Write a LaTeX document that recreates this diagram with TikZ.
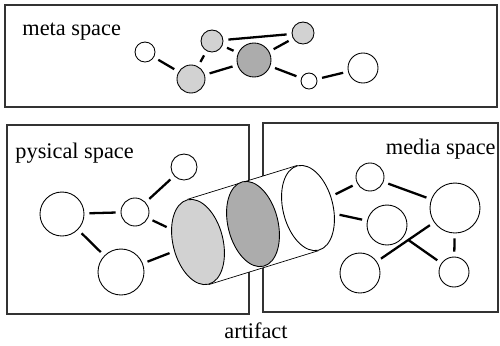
\documentclass[tikz,border=0pt]{standalone}
\usepackage{fontspec}
\setmainfont{Liberation Serif}
\usetikzlibrary{%
  shapes.geometric,% wg. ellipse
  backgrounds%
}

\begin{document}
\begin{tikzpicture}
[x=0.02cm, y=-0.02cm, line width=0.5pt,
node0/.style={circle, draw, fill=white, inner sep=0pt},
node1/.style={circle, draw, fill=gray!35, inner sep=0pt},
node2/.style={circle, draw, fill=gray!65, inner sep=0pt},
disc/.style={ellipse, draw, inner sep=0pt, minimum width=1cm, minimum height=1.74cm, rotate=14},
link/.style={line width=1.3pt, shorten >=0.1cm, shorten <=0.1cm},
space/.style={draw=black!80, line width=0.6pt},
title/.style={anchor=base west, inner sep=0pt, font=\fontsize{12.7}{15}\selectfont}]

\useasboundingbox (0,0) rectangle (500,345);

\begin{scope}[on background layer]
\draw[space] (5,5) rectangle (497,107);
\draw[space] (7,125) rectangle (249,314);
\draw[space] (263,123) rectangle (498,312);
\end{scope}

\node[title] (tmeta) at (22,35) {meta space};
\node[title] (tphys) at (15,158) {pysical space};
\node[title,anchor=base east] (tmedia) at (496,154) {media space};
\node[title,anchor=base] (tart) at (256,338) {artifact};

% meta space
\node[node0,minimum size=0.4cm] (a1) at (145,52) {};
\node[node1,minimum size=0.56cm] (a2) at (191,79) {};
\node[node1,minimum size=0.44cm] (a3) at (212,41) {};
\node[node2,minimum size=0.68cm] (a4) at (254,60) {};
\node[node1,minimum size=0.44cm] (a5) at (303,33) {};
\node[node0,minimum size=0.32cm] (a6) at (309,81) {};
\node[node0,minimum size=0.6cm] (a7) at (363,68) {};

\draw[link] (a1) -- (a2);
\draw[link] (a2) -- (a3);
\draw[link] (a3) -- (a5);
\draw[link] (a3) -- (a4);
\draw[link] (a4) -- (a5);
\draw[link] (a2) -- (a4);
\draw[link] (a4) -- (a6);
\draw[link] (a6) -- (a7);

% artifact
\node[disc,fill=white] (e3) at (308,208) {};
\node[disc,fill=gray!35] (e1) at (198,242) {};
\node[disc,fill=gray!65] (e2) at (253,224) {};

\begin{scope}[on background layer]
\fill[white] (e1.north) -- (e3.north) -- (e3.south) -- (e1.south) -- cycle;
\draw (e1.north) -- (e3.north);
\draw (e1.south) -- (e3.south);
\end{scope}

% pysical space
\node[node0,minimum size=0.88cm] (p1) at (62,214) {};
\node[node0,minimum size=0.56cm] (p2) at (135,212) {};
\node[node0,minimum size=0.52cm] (p3) at (184,167) {};
\node[node0,minimum size=0.92cm] (p4) at (121,272) {};

\draw[link] (p1) -- (p2);
\draw[link] (p1) -- (p4);
\draw[link] (p2) -- (p3);
\draw[link] (p2) -- (e1);
\draw[link] (p4) -- (e1);

% media space
\node[node0,minimum size=0.56cm] (q1) at (370,177) {};
\node[node0,minimum size=0.8cm] (q2) at (387,225) {};
\node[node0,minimum size=1cm] (q3) at (455,208) {};
\node[node0,minimum size=0.8cm] (q4) at (360,273) {};
\node[node0,minimum size=0.6cm] (q5) at (454,272) {};

\draw[link] (e3) -- (q1);
\draw[link] (e3) -- (q2);
\draw[link] (q1) -- (q3);
\draw[link] (q3) -- (q4);
\draw[link] (q2) -- (q5);
\draw[link] (q3) -- (q5);

\end{tikzpicture}
\end{document}
